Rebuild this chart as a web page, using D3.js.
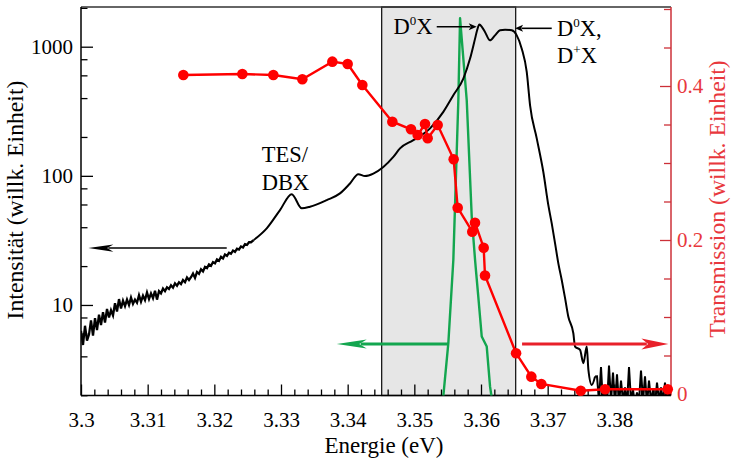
<!DOCTYPE html>
<html><head><meta charset="utf-8">
<script src="https://cdn.jsdelivr.net/npm/d3@7"></script>
<style>
body{margin:0;background:#fff}
svg{display:block}
text{font-family:"Liberation Serif","Tinos","Times New Roman",Times,"DejaVu Serif",serif}
</style>
</head><body>
<svg id="chart" width="731" height="461"></svg>
<script>
// ---------------- DATA ----------------
const xMajorTicks = [3.3, 3.31, 3.32, 3.33, 3.34, 3.35, 3.36, 3.37, 3.38];
const xTickLabels = ["3.3", "3.31", "3.32", "3.33", "3.34", "3.35", "3.36", "3.37", "3.38"];
const leftMajorTicks = [10, 100, 1000];
const leftTickLabels = ["10", "100", "1000"];
const leftMinorTicks = [2, 4, 6, 8, 20, 40, 60, 80, 200, 400, 600, 800, 2000];
const rightMajorTicks = [0, 0.2, 0.4];
const rightTickLabels = ["0", "0.2", "0.4"];
const rightMinorTicks = [0.05, 0.1, 0.15, 0.25, 0.3, 0.35, 0.45, 0.5];

// PL spectrum, low-energy noisy part (uniform grid from 3.300, step 0.0003 eV)
const plLowStart = 3.3, plLowStep = 0.0003;
const plLowI = [6.3, 4.9, 6.9, 5.3, 5.9, 7.6, 5.8, 7.9, 6.4, 8.4, 7.0, 8.8, 7.3, 9.3, 8.0, 9.1,
  8.3, 10.3, 8.9, 11.1, 9.4, 10.8, 9.8, 11.0, 10.0, 11.4, 10.2, 11.0, 10.4, 11.9, 10.6, 11.8,
  10.9, 12.5, 11.1, 12.3, 11.3, 12.9, 11.0, 12.8, 12.3, 13.4, 12.8, 13.7, 13.3, 14.2, 13.6, 14.7,
  14.1, 15.0, 14.5, 15.6, 15.0, 16.3, 15.6, 16.4, 17.5, 16.2, 18.0, 17.4, 18.9, 18.2, 19.7, 19.3,
  20.6, 20.1, 21.5, 21.0, 22.5, 22.0, 23.6, 22.9, 24.6, 24.0, 25.4, 24.9, 26.4, 25.8, 27.3, 26.9,
  28.4, 27.9, 29.6, 29.2, 30.6, 30.6];
// PL spectrum, main part
const plMidE = [3.3259, 3.32786, 3.32985, 3.33161, 3.33311, 3.33435, 3.33686, 3.33885, 3.34035, 3.3416,
  3.3426, 3.34385, 3.34535, 3.34685, 3.34785, 3.34985, 3.35236, 3.35435, 3.35585, 3.35735, 3.35836,
  3.35911, 3.35945, 3.35975, 3.36015, 3.3606, 3.36135, 3.3621, 3.36286, 3.36361, 3.36461, 3.36536,
  3.36611, 3.36686, 3.36736, 3.36836, 3.36935, 3.3701, 3.37061, 3.37111, 3.3716, 3.37211, 3.37261,
  3.3731, 3.37385, 3.37411, 3.37486, 3.37536, 3.37586, 3.37611, 3.37661, 3.37711];
const plMidI = [31.8, 39.2, 54.3, 72.1, 56, 57.6, 64.9, 73.1, 87.3, 103,
  99.5, 104, 117, 140, 163, 189, 233, 313, 421, 567, 809,
  1155, 1360, 1483, 1420, 1300, 1120, 1224, 1339, 1356, 1339, 1224,
  966, 637, 352, 195, 107, 59.3, 42.8, 30, 21, 15.6, 11.3,
  8.1, 6.04, 4.76, 4.49, 3.54, 4.76, 3.14, 2.4, 2.79];
// PL spectrum, high-energy noisy part (uniform grid from 3.3774, step 0.0003 eV)
const plHighStart = 3.3774, plHighStep = 0.0003;
const plHighI = [2.8, 1.8, 3.3, 1.7, 2.4, 1.7, 3.4, 1.8, 3.0, 1.7, 2.9, 1.7, 2.6, 1.8, 2.3, 1.7,
  3.3, 1.8, 2.2, 1.7, 2.1, 1.8, 3.1, 1.8, 2.8, 1.7, 2.6, 1.8, 2.2, 1.7, 2.5, 1.8, 2.3, 1.8, 2.5, 1.7, 2.2, 1.8];

// Laser / filter line (green)
const greenE = [3.35435, 3.3551, 3.35585, 3.3566, 3.35686, 3.35786, 3.35861, 3.35911, 3.35926, 3.3596, 3.36011, 3.36086, 3.36136, 3.36161];
const greenI = [1.98, 5.06, 22.3, 385, 1660, 385, 48.2, 22.3, 18.1, 11.5, 5.7, 4.76, 2.33, 1.9];

// Transmission (red)
const transE = [3.31535, 3.3242, 3.32885, 3.3332, 3.3377, 3.34, 3.3422, 3.3467, 3.3495, 3.3505, 3.3516,
  3.352, 3.3535, 3.3559, 3.3565, 3.35869, 3.3591, 3.3604, 3.3606, 3.36526, 3.36755, 3.36905, 3.37496, 3.37861, 3.38801];
const transT = [0.4143, 0.4156, 0.4143, 0.4087, 0.4316, 0.4286, 0.4013, 0.3536, 0.3438, 0.3364, 0.3506,
  0.3321, 0.3494, 0.3048, 0.2419, 0.2108, 0.2225, 0.190, 0.1539, 0.0529, 0.0225, 0.013, 0.0043, 0.0061, 0.0061];

const shadedRange = [3.3451, 3.3652];

// ---------------- LAYOUT ----------------
const L = 81, R = 671, T = 7, B = 395.5;
const FONT = "'Liberation Serif','Tinos','Times New Roman',Times,'DejaVu Serif',serif";
const svg = d3.select("#chart").attr("font-family", FONT);

const x = d3.scaleLinear().domain([3.3, 3.3885]).range([L, R]);
const yL = d3.scaleLog().domain([1.99, 2030]).range([B, T]);
const yR = d3.scaleLinear().domain([-0.00195, 0.5026]).range([B, T]);

const clipId = "plotclip";
svg.append("defs").append("clipPath").attr("id", clipId)
  .append("rect").attr("x", L).attr("y", T).attr("width", R - L).attr("height", B - T);

// shaded box
svg.append("rect")
  .attr("x", x(shadedRange[0])).attr("y", T)
  .attr("width", x(shadedRange[1]) - x(shadedRange[0])).attr("height", B - T)
  .attr("fill", "#e6e6e6").attr("stroke", "#1a1a1a").attr("stroke-width", 1.3);

// ---------------- AXES ----------------
function styleAxis(g, color, size) {
  g.attr("font-family", FONT);
  g.select(".domain").remove();
  g.selectAll(".tick line").attr("stroke", color).attr("stroke-width", 1.3);
  g.selectAll(".tick text").attr("fill", color).style("font-size", size + "px").style("font-family", FONT);
}
const xMinor = d3.range(0, 45).map(i => +(3.3 + i * 0.002).toFixed(3)).filter(v => Math.round(v * 1000) % 10 !== 0);

svg.append("g").attr("transform", `translate(0,${B})`)
  .call(d3.axisBottom(x).tickValues(xMinor).tickFormat("").tickSizeInner(-6).tickSizeOuter(0))
  .call(g => styleAxis(g, "#000", 21));
svg.append("g").attr("transform", `translate(0,${B})`)
  .call(d3.axisBottom(x).tickValues(xMajorTicks).tickFormat((d, i) => xTickLabels[i]).tickSizeInner(-11).tickSizeOuter(0).tickPadding(16.5))
  .call(g => styleAxis(g, "#000", 21));

svg.append("g").attr("transform", `translate(${L},0)`)
  .call(d3.axisLeft(yL).tickValues(leftMinorTicks).tickFormat("").tickSizeInner(-6.5).tickSizeOuter(0))
  .call(g => styleAxis(g, "#000", 21));
svg.append("g").attr("transform", `translate(${L},0)`)
  .call(d3.axisLeft(yL).tickValues(leftMajorTicks).tickFormat((d, i) => leftTickLabels[i]).tickSizeInner(-12).tickSizeOuter(0).tickPadding(8))
  .call(g => styleAxis(g, "#000", 21));

const RED_AX = "#cc3038", RED_TX = "#e8383d";
svg.append("g").attr("transform", `translate(${R},0)`)
  .call(d3.axisRight(yR).tickValues(rightMinorTicks).tickFormat("").tickSizeInner(-7).tickSizeOuter(0))
  .call(g => styleAxis(g, RED_AX, 21));
const ra = svg.append("g").attr("transform", `translate(${R},0)`)
  .call(d3.axisRight(yR).tickValues(rightMajorTicks).tickFormat((d, i) => rightTickLabels[i]).tickSizeInner(-11).tickSizeOuter(0).tickPadding(6))
  .call(g => styleAxis(g, RED_AX, 21));
ra.selectAll(".tick text").attr("fill", RED_TX);

// frame
svg.append("line").attr("x1", L).attr("x2", R).attr("y1", T).attr("y2", T).attr("stroke", "#333").attr("stroke-width", 1.3);
svg.append("line").attr("x1", L).attr("x2", R).attr("y1", B).attr("y2", B).attr("stroke", "#000").attr("stroke-width", 1.5);
svg.append("line").attr("x1", L).attr("x2", L).attr("y1", T).attr("y2", B).attr("stroke", "#000").attr("stroke-width", 1.5);
svg.append("line").attr("x1", R).attr("x2", R).attr("y1", T).attr("y2", B).attr("stroke", RED_AX).attr("stroke-width", 1.5);

// axis titles
svg.append("text").attr("x", 384).attr("y", 453).attr("text-anchor", "middle")
  .style("font-size", "23px").style("font-family", FONT).attr("fill", "#000").text("Energie (eV)");
svg.append("text").attr("transform", `translate(23,200) rotate(-90)`).attr("text-anchor", "middle")
  .style("font-size", "23.7px").style("font-family", FONT).attr("fill", "#000").text("Intensität (willk. Einheit)");
svg.append("text").attr("transform", `translate(725,199) rotate(-90)`).attr("text-anchor", "middle")
  .style("font-size", "23.7px").style("font-family", FONT).attr("fill", RED_TX).text("Transmission (willk. Einheit)");

// ---------------- SERIES ----------------
const lowData = plLowI.map((v, i) => [plLowStart + i * plLowStep, v]);
const midData = plMidE.map((e, i) => [e, plMidI[i]]);
const highData = plHighI.map((v, i) => [plHighStart + i * plHighStep, v]);

const plot = svg.append("g").attr("clip-path", `url(#${clipId})`);

plot.append("path").datum(greenE.map((e, i) => [e, greenI[i]]))
  .attr("fill", "none").attr("stroke", "#13a64f").attr("stroke-width", 2.4).attr("stroke-linejoin", "round")
  .attr("d", d3.line().x(d => x(d[0])).y(d => yL(d[1])));

const lineLin = d3.line().x(d => x(d[0])).y(d => yL(d[1]));
const lineSmooth = d3.line().x(d => x(d[0])).y(d => yL(d[1])).curve(d3.curveMonotoneX);
plot.append("path").datum(lowData.concat([midData[0]]))
  .attr("fill", "none").attr("stroke", "#000").attr("stroke-width", 2.3).attr("stroke-linejoin", "miter").attr("d", lineLin);
plot.append("path").datum(midData)
  .attr("fill", "none").attr("stroke", "#000").attr("stroke-width", 2).attr("stroke-linejoin", "round").attr("d", lineSmooth);
plot.append("path").datum([midData[midData.length - 1]].concat(highData))
  .attr("fill", "none").attr("stroke", "#000").attr("stroke-width", 2).attr("stroke-linejoin", "miter").attr("d", lineLin);

const tData = transE.map((e, i) => [e, transT[i]]);
plot.append("path").datum(tData)
  .attr("fill", "none").attr("stroke", "#ff0000").attr("stroke-width", 2.4)
  .attr("d", d3.line().x(d => x(d[0])).y(d => yR(d[1])));
svg.append("g").selectAll("circle").data(tData).join("circle")
  .attr("cx", d => x(d[0])).attr("cy", d => yR(d[1])).attr("r", 5.3).attr("fill", "#ff0000");

// ---------------- ANNOTATIONS ----------------
function arrow(x1, y1, x2, y2, color, width, headLen, headHalf) {
  const dir = Math.sign(x2 - x1);
  svg.append("line").attr("x1", x1).attr("y1", y1).attr("x2", x2 - dir * headLen * 0.8).attr("y2", y2)
    .attr("stroke", color).attr("stroke-width", width);
  svg.append("path")
    .attr("d", `M${x2},${y2} L${x2 - dir * headLen},${y2 - headHalf} L${x2 - dir * headLen * 0.75},${y2} L${x2 - dir * headLen},${y2 + headHalf} Z`)
    .attr("fill", color);
}
arrow(x(3.32186), yL(27.6), x(3.3011), yL(27.6), "#000", 1.6, 25, 3.6);
arrow(x(3.3551), yR(0.065), x(3.33836), yR(0.065), "#13a64f", 3, 30, 4.5);
arrow(x(3.36616), yR(0.065), x(3.38811), yR(0.065), "#e8202a", 3, 27, 5.5);
arrow(x(3.35336), yL(1429), x(3.35936), yL(1429), "#000", 1.6, 8, 3.5);
arrow(x(3.37061), yL(1388), x(3.36511), yL(1388), "#000", 1.6, 8, 3.5);

function label(xv, yv, parts) {
  const t = svg.append("text").attr("x", x(xv)).attr("y", yL(yv))
    .style("font-size", "22.5px").style("font-family", FONT).attr("fill", "#000");
  parts.forEach(p => {
    if (p.sup) t.append("tspan").attr("dy", -9).style("font-size", "13px").text(p.t);
    else if (p.after) t.append("tspan").attr("dy", 9).text(p.t);
    else t.append("tspan").text(p.t);
  });
}
label(3.34686, 1247, [{t: "D"}, {t: "0", sup: true}, {t: "X", after: true}]);
label(3.37141, 1210, [{t: "D"}, {t: "0", sup: true}, {t: "X,", after: true}]);
label(3.37141, 752, [{t: "D"}, {t: "+", sup: true}, {t: "X", after: true}]);
label(3.32711, 128.7, [{t: "TES/"}]);
label(3.32711, 77.7, [{t: "DBX"}]);
</script>
</body></html>
